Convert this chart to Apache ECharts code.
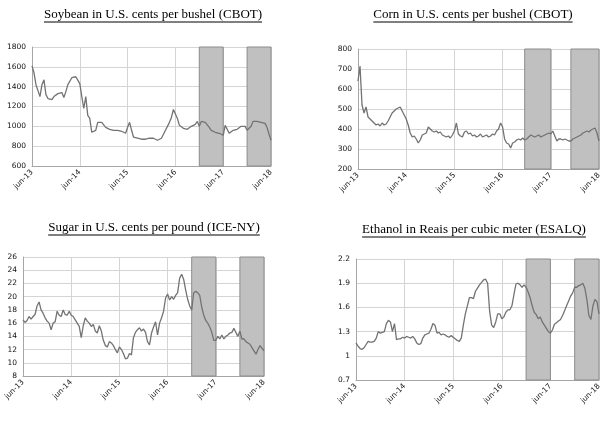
<!DOCTYPE html>
<html><head><meta charset="utf-8">
<script src="https://cdn.jsdelivr.net/npm/echarts@6/dist/echarts.min.js"></script>
<style>html,body{margin:0;padding:0;background:#fff}#c{width:614px;height:421px}</style>
</head><body><div id="c"></div>
<script>
// Half-month samples, Jun-2013 .. Jun-2018 (121 points each)
const tickLabels = ['jun-13','jun-14','jun-15','jun-16','jun-17','jun-18'];
const titles = ['Soybean in U.S. cents per bushel (CBOT)','Corn in U.S. cents per bushel (CBOT)','Sugar in U.S. cents per pound (ICE-NY)','Ethanol in Reais per cubic meter (ESALQ)'];
const soybean = [1610,1540,1420,1360,1300,1420,1470,1320,1280,1300,1270,1300,1320,1330,1310,1340,1290,1350,1420,1440,1490,1510,1500,1520,1430,1300,1180,1300,1110,1080,940,920,960,1040,1020,1040,1030,990,1010,970,990,960,980,960,970,950,960,930,990,1040,960,890,900,880,890,870,880,870,860,880,870,880,870,860,870,880,920,960,1000,1040,1090,1170,1150,1080,1010,1000,980,960,970,990,1000,990,1020,1050,1000,1050,1060,1040,1020,990,960,950,940,960,930,920,910,1010,990,930,950,960,980,970,990,1000,990,1000,960,950,1000,1050,1040,1050,1030,1040,1020,1030,990,920,860];
const corn = [640,715,520,480,510,460,450,440,430,420,425,415,430,420,425,440,460,480,490,500,505,510,490,470,450,420,380,360,365,350,330,345,370,375,380,410,400,390,385,390,380,385,370,365,360,365,355,370,390,430,375,365,360,385,390,375,380,365,370,360,365,375,360,365,370,360,365,375,370,390,400,430,410,350,330,325,305,330,335,345,350,345,355,345,350,360,370,365,360,365,370,360,365,370,375,380,375,390,365,340,350,350,345,350,345,340,340,350,355,360,365,370,380,385,390,385,395,400,405,380,340];
const sugar = [16.5,16.1,16.4,17.0,16.6,17.0,17.3,18.6,19.2,18.0,17.5,16.8,16.3,16.0,15.0,16.0,16.2,17.8,17.2,17.0,18.0,17.3,17.2,17.8,17.2,17.0,16.5,16.0,15.5,13.8,15.6,16.8,16.3,16.0,15.5,15.8,14.8,14.5,15.6,14.8,13.4,12.6,12.4,13.2,13.0,12.6,12.0,11.5,12.4,12.0,11.4,10.6,10.7,11.4,11.2,13.8,14.6,15.0,15.3,14.8,15.1,14.6,13.2,12.7,14.5,15.4,16.2,14.2,16.0,16.8,17.8,19.8,20.4,19.5,20.0,19.6,20.2,20.6,22.8,23.4,22.6,21.0,19.6,18.6,18.0,20.6,20.8,20.6,20.2,18.4,17.2,16.4,16.0,15.4,14.6,13.4,13.4,14.0,13.6,14.2,13.6,14.0,14.2,14.5,14.6,15.2,14.6,14.0,14.8,13.6,13.6,13.2,13.0,12.8,12.3,11.8,11.3,12.0,12.6,12.2,11.8];
const ethanol = [1.16,1.12,1.09,1.08,1.10,1.14,1.18,1.17,1.17,1.18,1.22,1.30,1.28,1.29,1.30,1.40,1.44,1.42,1.30,1.40,1.20,1.21,1.21,1.23,1.22,1.24,1.23,1.22,1.24,1.21,1.16,1.14,1.15,1.22,1.26,1.27,1.28,1.33,1.40,1.38,1.28,1.29,1.26,1.27,1.26,1.24,1.23,1.25,1.23,1.21,1.19,1.18,1.22,1.38,1.52,1.62,1.72,1.72,1.71,1.80,1.84,1.88,1.91,1.94,1.95,1.90,1.55,1.38,1.35,1.42,1.52,1.52,1.46,1.48,1.54,1.57,1.57,1.62,1.76,1.89,1.90,1.88,1.85,1.88,1.85,1.79,1.72,1.62,1.54,1.51,1.46,1.48,1.42,1.38,1.34,1.30,1.28,1.32,1.39,1.41,1.43,1.45,1.50,1.56,1.62,1.68,1.74,1.78,1.85,1.85,1.87,1.88,1.90,1.84,1.70,1.50,1.45,1.62,1.70,1.67,1.52];
// shaded periods in months since Jun-13
const bandsSoy = [[42,48],[54,60]];
const bandsCorn = [[41.5,48],[53,60]];
const bandsSugar = [[42,48],[54,60]];
const bandsEth = [[42,48],[54,60]];
const yRanges = [[600,1800,200],[200,800,100],[8,26,2],[0.7,2.2,0.3]];

const allData = [soybean, corn, sugar, ethanol];
const allBands = [bandsSoy, bandsCorn, bandsSugar, bandsEth];
const grids = [
  {left:32, top:47, width:239, height:119},
  {left:358, top:49, width:241, height:120},
  {left:23, top:257, width:241, height:119},
  {left:356, top:259, width:243, height:121}
];
const titlePos = [[153,16],[473,16],[154,229],[474,231]];

const chart = echarts.init(document.getElementById('c'), null, {renderer:'canvas'});
const labelFont = {fontFamily:'DejaVu Sans, Verdana, sans-serif', fontSize:7.5, color:'#111'};
const xAxes = [], yAxes = [], series = [];
allData.forEach((arr, k) => {
  xAxes.push({gridIndex:k, type:'value', min:0, max:60, interval:12,
    axisLine:{show:true, lineStyle:{color:'#a6a6a6'}}, axisTick:{show:false},
    splitLine:{show:true, lineStyle:{color:'#d4d4d4'}},
    axisLabel:Object.assign({rotate:45, margin:5, formatter:v => tickLabels[Math.round(v/12)] || ''}, labelFont)});
  const r = yRanges[k];
  yAxes.push({gridIndex:k, type:'value', min:r[0], max:r[1], interval:r[2],
    axisLine:{show:true, lineStyle:{color:'#a6a6a6'}}, axisTick:{show:false},
    splitLine:{show:true, lineStyle:{color:'#d4d4d4'}},
    axisLabel:Object.assign({margin:6, formatter:v => String(parseFloat(v.toFixed(1)))}, labelFont)});
  series.push({type:'line', xAxisIndex:k, yAxisIndex:k, data:[], z:1, silent:true,
    markArea:{silent:true, itemStyle:{color:'#c0c0c0', borderColor:'#8c8c8c', borderWidth:1},
      data: allBands[k].map(b => [{xAxis:b[0]},{xAxis:b[1]}])}});
  series.push({type:'line', xAxisIndex:k, yAxisIndex:k, z:3, symbol:'none', animation:false,
    lineStyle:{color:'#737373', width:1.3},
    data: arr.map((v,i) => [i*0.5, v])});
});

const ctx = document.createElement('canvas').getContext('2d');
const tFont = '13px "Liberation Serif", "Times New Roman", serif';
ctx.font = tFont;
const graphics = [];
titles.forEach((t,k) => {
  const w = ctx.measureText(t).width;
  const [cx, cy] = titlePos[k];
  graphics.push({type:'text', left:cx - w/2, top:cy - 8, style:{text:t, font:tFont, fill:'#000'}});
  graphics.push({type:'line', shape:{x1:cx - w/2, y1:cy + 6, x2:cx + w/2, y2:cy + 6}, style:{stroke:'#000', lineWidth:1}});
});

chart.setOption({animation:false, grid:grids, xAxis:xAxes, yAxis:yAxes, series:series, graphic:graphics});
</script></body></html>
